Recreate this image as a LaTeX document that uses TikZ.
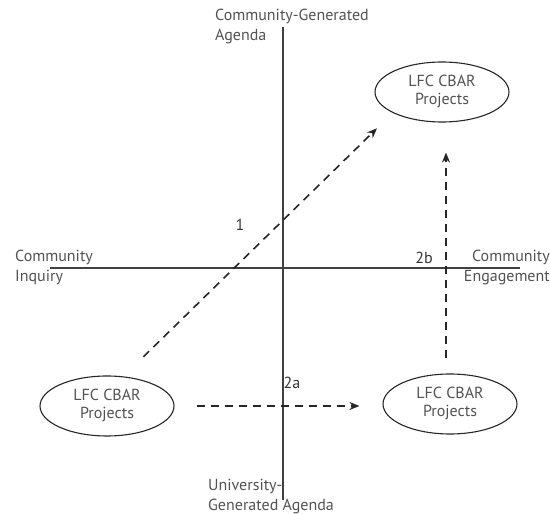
\documentclass[tikz,border=0pt]{standalone}
\usepackage{fontspec}
\setmainfont{PT Sans}
\usepackage{xcolor}
\usetikzlibrary{calc}
\usetikzlibrary{positioning,arrows.meta}
\usetikzlibrary{shapes.geometric}
\definecolor{txtgray}{gray}{0.32}
\tikzset{
  proj/.style={ellipse, draw=black!85, line width=1.1pt, minimum width=134pt, minimum height=60pt, inner sep=0pt, align=center, text=txtgray, font=\fontsize{16}{18}\selectfont},
  axis/.style={draw=black!75, line width=1.3pt},
  lbl/.style={text=txtgray, font=\fontsize{16}{20}\selectfont, inner sep=0pt},
  num/.style={text=black!80, font=\fontsize{16}{18}\selectfont, inner sep=0pt},
  flow/.style={draw=black!85, line width=1.6pt, dash pattern=on 8pt off 6pt, -{Stealth[length=10pt,width=8pt]}}
}
\begin{document}
\begin{tikzpicture}[x=1pt,y=1pt]
\useasboundingbox (0,0) rectangle (550,514);
% axes
\coordinate (top) at (283,487);
\coordinate (bot) at (283,14);
\coordinate (lft) at (50,246);
\coordinate (rgt) at (520,246);
\draw[axis] (bot) -- (top);
\draw[axis] (lft) -- (rgt);
\node[lbl, anchor=north west, align=left] (cga) at (215,505) {Community-Generated\\Agenda};
\node[lbl, anchor=north west, align=left] (uga) at (208,35) {University-\\Generated Agenda};
\node[lbl, anchor=north west, align=left] (ci) at (15,264) {Community\\Inquiry};
\node[lbl, anchor=north east, align=right] (ce) at (550,264) {Community\\Engagement};

% projects
\node[proj] (p1) at (442,422) {LFC CBAR\\Projects};
\node[proj] (p0) at (107,108) {LFC CBAR\\Projects};
\node[proj] (p2) at (450,110) {LFC CBAR\\Projects};

% moves
\draw[flow, shorten <=28pt, shorten >=22pt] (p0.61) -- (p1.203);
\draw[flow, shorten <=22pt, shorten >=23pt] (p0.east) -- (p0.east -| p2.west);
\draw[flow, shorten <=15pt, shorten >=30pt] (p2.north -| 446,0) -- (p1.south -| 446,0);
\node[num] (n1) at (240,289) {1};
\node[num] (n2a) at (292,131) {2a};
\node[num] (n2b) at (424,256) {2b};
\end{tikzpicture}
\end{document}
